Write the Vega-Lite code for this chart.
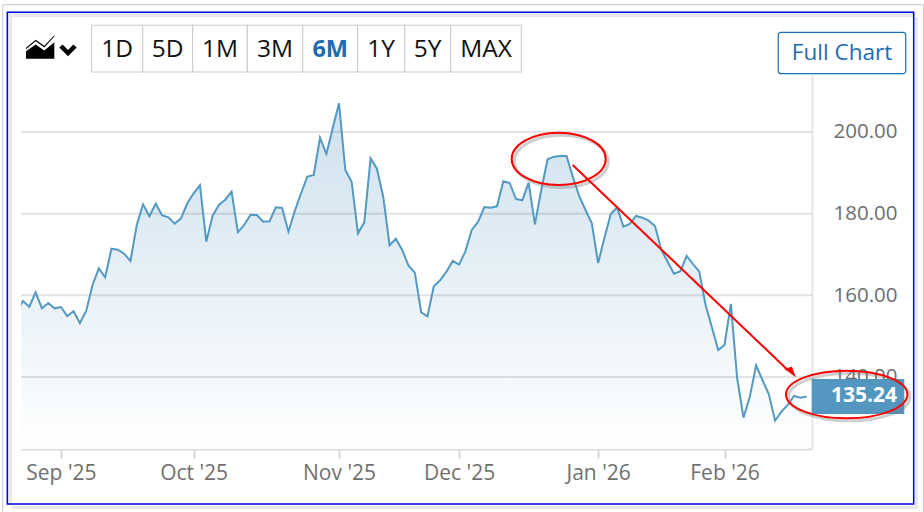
{
  "$schema": "https://vega.github.io/schema/vega-lite/v6.json",
  "description": "Six month share price chart, with the December high and the last price circled",
  "width": 791,
  "height": 374,
  "autosize": "none",
  "padding": {"left": 21, "top": 75, "right": 112, "bottom": 63},
  "background": "#ffffff",
  "config": {"view": {"stroke": null}, "font": "Open Sans"},
  "data": {"values": [{}]},
  "datasets": {
    "prices": [
      {"session":-1,"close":156.16},{"session":0,"close":158.61},{"session":1,"close":157.21},{"session":2,"close":160.74},{"session":3,"close":156.82},{"session":4,"close":158.12},{"session":5,"close":156.82},{"session":6,"close":157.14},{"session":7,"close":154.94},{"session":8,"close":156.09},
      {"session":9,"close":153.22},{"session":10,"close":156.16},{"session":11,"close":162.53},{"session":12,"close":166.62},{"session":13,"close":164.41},{"session":14,"close":171.42},{"session":15,"close":171.17},{"session":16,"close":170.19},{"session":17,"close":168.41},{"session":18,"close":177.22},
      {"session":19,"close":182.29},{"session":20,"close":179.35},{"session":21,"close":182.44},{"session":22,"close":179.6},{"session":23,"close":179.11},{"session":24,"close":177.54},{"session":25,"close":178.86},{"session":26,"close":182.54},{"session":27,"close":184.99},{"session":28,"close":186.95},
      {"session":29,"close":173.13},{"session":30,"close":179.5},{"session":31,"close":182.12},{"session":32,"close":183.42},{"session":33,"close":185.38},{"session":34,"close":175.43},{"session":35,"close":177.22},{"session":36,"close":179.75},{"session":37,"close":179.67},{"session":38,"close":178.03},
      {"session":39,"close":178.13},{"session":40,"close":181.56},{"session":41,"close":181.39},{"session":42,"close":175.58},{"session":43,"close":180.65},{"session":44,"close":184.99},{"session":45,"close":189.1},{"session":46,"close":189.47},{"session":47,"close":198.6},{"session":48,"close":194.61},
      {"session":49,"close":200.91},{"session":50,"close":207.03},{"session":51,"close":190.69},{"session":52,"close":187.83},{"session":53,"close":175.19},{"session":54,"close":177.88},{"session":55,"close":193.56},{"session":56,"close":191.01},{"session":57,"close":184.15},{"session":58,"close":172.25},
      {"session":59,"close":173.87},{"session":60,"close":171.1},{"session":61,"close":167.26},{"session":62,"close":165.54},{"session":63,"close":155.84},{"session":64,"close":154.86},{"session":65,"close":162.21},{"session":66,"close":163.68},{"session":67,"close":165.79},{"session":68,"close":168.41},
      {"session":69,"close":167.5},{"session":70,"close":170.78},{"session":71,"close":176},{"session":72,"close":177.96},{"session":73,"close":181.63},{"session":74,"close":181.46},{"session":75,"close":181.8},{"session":76,"close":187.93},{"session":77,"close":187.51},{"session":78,"close":183.59},
      {"session":79,"close":183.27},{"session":80,"close":187.58},{"session":81,"close":177.39},{"session":82,"close":185.8},{"session":83,"close":193.31},{"session":84,"close":193.95},{"session":85,"close":194.12},{"session":86,"close":194.12},{"session":87,"close":189.05},{"session":88,"close":184.33},
      {"session":89,"close":180.9},{"session":90,"close":177.64},{"session":91,"close":167.92},{"session":92,"close":174.11},{"session":93,"close":179.92},{"session":94,"close":181.51},{"session":95,"close":176.81},{"session":96,"close":177.47},{"session":97,"close":179.43},{"session":98,"close":179.01},
      {"session":99,"close":178.28},{"session":100,"close":176.98},{"session":101,"close":171.1},{"session":102,"close":168.24},{"session":103,"close":165.3},{"session":104,"close":165.88},{"session":105,"close":169.63},{"session":106,"close":167.67},{"session":107,"close":165.79},{"session":108,"close":157.63},
      {"session":109,"close":152.17},{"session":110,"close":146.61},{"session":111,"close":147.83},{"session":112,"close":157.87},{"session":113,"close":139.68},{"session":114,"close":130.03},{"session":115,"close":135.17},{"session":116,"close":142.86},{"session":117,"close":139.26},{"session":118,"close":135.83},
      {"session":119,"close":129.29},{"session":120,"close":131.5},{"session":121,"close":133.14},{"session":122,"close":135.34},{"session":123,"close":134.93},{"session":124,"close":135.24}
    ],
    "levels": [{"level":140},{"level":160},{"level":180},{"level":200}],
    "buttons": [
      {"label":"1D","from":10.87,"to":18.94,"mid":14.9},
      {"label":"5D","from":18.94,"to":26.85,"mid":22.9},
      {"label":"1M","from":26.85,"to":35.49,"mid":31.17},
      {"label":"3M","from":35.49,"to":44.26,"mid":39.87},
      {"label":"6M","from":44.26,"to":52.96,"mid":48.61},
      {"label":"1Y","from":52.96,"to":60.4,"mid":56.68},
      {"label":"5Y","from":60.4,"to":67.67,"mid":64.03},
      {"label":"MAX","from":67.67,"to":78.85,"mid":73.26}
    ],
    "shadows": [
      {"from":-2.37,"to":-1.74,"top":229.15,"bottom":108.65},
      {"from":-2.37,"to":140.9,"top":229.15,"bottom":228.17},
      {"from":141.06,"to":141.61,"top":228.17,"bottom":107.67},
      {"from":-1.74,"to":141.61,"top":108.45,"bottom":107.67}
    ]
  },
  "layer": [
    {
      "mark": {"type": "rect", "filled": false, "stroke": "#c8c8c8", "strokeWidth": 1},
      "encoding": {
        "x": {"datum": -3.21, "type": "quantitative", "title": null},
        "x2": {"datum": 142.48},
        "y": {"datum": 231.18, "type": "quantitative", "title": null},
        "y2": {"datum": 104.97}
      }
    },
    {
      "data": {"name": "shadows"},
      "mark": {"type": "rect", "fill": "#e9e9e9"},
      "encoding": {
        "x": {"field": "from", "type": "quantitative", "title": null},
        "x2": {"field": "to"},
        "y": {"field": "top", "type": "quantitative", "title": null},
        "y2": {"field": "bottom"}
      }
    },
    {
      "mark": {"type": "rect", "filled": false, "stroke": "#0000e6", "strokeWidth": 1.5},
      "encoding": {
        "x": {"datum": -2.48, "type": "quantitative", "title": null},
        "x2": {"datum": 140.93},
        "y": {"datum": 229.31, "type": "quantitative", "title": null},
        "y2": {"datum": 108.9}
      }
    },
    {
      "data": {"name": "prices"},
      "mark": {
        "type": "area",
        "clip": true,
        "opacity": 1,
        "fill": {
          "x1": 0, "y1": 0, "x2": 0, "y2": 1,
          "gradient": "linear",
          "stops": [
            {"offset": 0, "color": "#cee1ee"},
            {"offset": 1, "color": "#ffffff"}
          ]
        }
      },
      "encoding": {
        "x": {
          "field": "session",
          "type": "quantitative",
          "title": null,
          "scale": {"domain": [-0.316, 124.84], "nice": false, "zero": false},
          "axis": {
            "values": [6, 27, 50, 69, 91, 111],
            "labelExpr": "datum.value == 6 ? \"Sep '25\" : datum.value == 27 ? \"Oct '25\" : datum.value == 50 ? \"Nov '25\" : datum.value == 69 ? \"Dec '25\" : datum.value == 91 ? \"Jan '26\" : \"Feb '26\"",
            "grid": false,
            "domainColor": "#dcdcdc",
            "domainWidth": 2,
            "tickColor": "#d6d6d6",
            "tickWidth": 2,
            "tickSize": 9,
            "labelFontSize": 21,
            "labelColor": "#707070",
            "labelFont": "Open Sans",
            "labelPadding": 4,
            "labelFlush": false,
            "labelOverlap": false
          }
        },
        "y": {
          "field": "close",
          "type": "quantitative",
          "title": null,
          "scale": {"domain": [122.36, 213.96], "nice": false, "zero": false},
          "axis": {
            "orient": "right",
            "values": [140, 160, 180, 200],
            "format": ".2f",
            "grid": false,
            "ticks": false,
            "domainColor": "#e6e6e6",
            "domainWidth": 2,
            "labelFontSize": 20.5,
            "labelColor": "#6e6e6e",
            "labelFont": "Open Sans",
            "labelPadding": 21
          }
        },
        "y2": {"datum": 122.36}
      }
    },
    {
      "data": {"name": "levels"},
      "mark": {"type": "rule", "color": "#000000", "opacity": 0.11, "strokeWidth": 2},
      "encoding": {
        "y": {"field": "level", "type": "quantitative", "title": null}
      }
    },
    {
      "data": {"name": "prices"},
      "mark": {"type": "line", "clip": true, "color": "#5499c2", "strokeWidth": 2},
      "encoding": {
        "x": {"field": "session", "type": "quantitative", "title": null},
        "y": {"field": "close", "type": "quantitative", "title": null}
      }
    },
    {
      "mark": {"type": "rect", "fill": "#5397c0"},
      "encoding": {
        "x": {"datum": 124.79, "type": "quantitative", "title": null},
        "x2": {"datum": 139.45},
        "y": {"datum": 139.5, "type": "quantitative", "title": null},
        "y2": {"datum": 130.93}
      }
    },
    {
      "data": {"name": "prices"},
      "transform": [{"filter": "datum.session == 124"}],
      "mark": {"type": "text", "align": "right", "baseline": "middle", "color": "#ffffff", "font": "Open Sans", "fontWeight": "bold", "fontSize": 21},
      "encoding": {
        "x": {"datum": 138.3, "type": "quantitative", "title": null},
        "y": {"field": "close", "type": "quantitative", "title": null},
        "text": {"field": "close", "type": "quantitative", "format": ".2f"}
      }
    },
    {
      "data": {"name": "buttons"},
      "mark": {"type": "rect", "fill": "#ffffff", "stroke": "#cccccc", "strokeWidth": 1.1},
      "encoding": {
        "x": {"field": "from", "type": "quantitative", "title": null},
        "x2": {"field": "to"},
        "y": {"datum": 226.13, "type": "quantitative", "title": null},
        "y2": {"datum": 214.7}
      }
    },
    {
      "data": {"name": "buttons"},
      "transform": [{"filter": "datum.label != '6M'"}],
      "mark": {"type": "text", "baseline": "middle", "color": "#111111", "font": "Open Sans", "fontSize": 24.5},
      "encoding": {
        "x": {"field": "mid", "type": "quantitative", "title": null},
        "y": {"datum": 220.08, "type": "quantitative", "title": null},
        "text": {"field": "label"}
      }
    },
    {
      "data": {"name": "buttons"},
      "transform": [{"filter": "datum.label == '6M'"}],
      "mark": {"type": "text", "baseline": "middle", "color": "#1f6bb0", "font": "Open Sans", "fontWeight": "bold", "fontSize": 23.5},
      "encoding": {
        "x": {"field": "mid", "type": "quantitative", "title": null},
        "y": {"datum": 220.08, "type": "quantitative", "title": null},
        "text": {"field": "label"}
      }
    },
    {
      "mark": {"type": "rect", "fill": "#ffffff", "stroke": "#1f6fb5", "strokeWidth": 1.2, "cornerRadius": 3},
      "encoding": {
        "x": {"datum": 119.5, "type": "quantitative", "title": null},
        "x2": {"datum": 139.67},
        "y": {"datum": 224.42, "type": "quantitative", "title": null},
        "y2": {"datum": 214.28}
      }
    },
    {
      "mark": {"type": "text", "text": "Full Chart", "baseline": "middle", "color": "#1f6bb0", "font": "Open Sans", "fontSize": 22.5},
      "encoding": {
        "x": {"datum": 129.59, "type": "quantitative", "title": null},
        "y": {"datum": 219.47, "type": "quantitative", "title": null}
      }
    },
    {
      "mark": {
        "type": "point",
        "shape": "M-1,0.816L-1,0.287L-0.333,-0.172L0.264,0.241L0.954,-0.333L0.954,0.816ZM-1,0.057L-0.333,-0.494L0.264,-0.08L0.954,-0.816L0.954,-0.72L0.264,0.03L-0.333,-0.39L-1,0.15Z",
        "size": 841,
        "filled": true,
        "fill": "#000000",
        "opacity": 1,
        "strokeWidth": 0
      },
      "encoding": {
        "x": {"datum": 2.77, "type": "quantitative", "title": null},
        "y": {"datum": 220.82, "type": "quantitative", "title": null}
      }
    },
    {
      "mark": {
        "type": "point",
        "shape": "M-1,-0.35L-0.62,-0.7L0,-0.05L0.62,-0.7L1,-0.35L0,0.67Z",
        "size": 303,
        "filled": true,
        "fill": "#000000",
        "opacity": 1,
        "strokeWidth": 0
      },
      "encoding": {
        "x": {"datum": 7.12, "type": "quantitative", "title": null},
        "y": {"datum": 219.96, "type": "quantitative", "title": null}
      }
    },
    {
      "mark": {"type": "point", "shape": "M-1,0A1,0.557,0,1,1,1,0A1,0.557,0,1,1,-1,0Z", "size": 8836, "filled": false, "stroke": "#777777", "strokeWidth": 3, "opacity": 0.35, "xOffset": 2.5, "yOffset": 2.5},
      "encoding": {
        "x": {"datum": 84.76, "type": "quantitative", "title": null},
        "y": {"datum": 193.41, "type": "quantitative", "title": null}
      }
    },
    {
      "mark": {"type": "point", "shape": "M-1,0A1,0.392,0,1,1,1,0A1,0.392,0,1,1,-1,0Z", "size": 14738, "filled": false, "stroke": "#777777", "strokeWidth": 3, "opacity": 0.35, "xOffset": 2.5, "yOffset": 2.5},
      "encoding": {
        "x": {"datum": 130.33, "type": "quantitative", "title": null},
        "y": {"datum": 135.71, "type": "quantitative", "title": null}
      }
    },
    {
      "mark": {"type": "point", "shape": "M-1,0A1,0.557,0,1,1,1,0A1,0.557,0,1,1,-1,0Z", "size": 8836, "filled": false, "stroke": "#ff0000", "strokeWidth": 2, "opacity": 1},
      "encoding": {
        "x": {"datum": 84.76, "type": "quantitative", "title": null},
        "y": {"datum": 193.41, "type": "quantitative", "title": null}
      }
    },
    {
      "mark": {"type": "point", "shape": "M-1,0A1,0.392,0,1,1,1,0A1,0.392,0,1,1,-1,0Z", "size": 14738, "filled": false, "stroke": "#ff0000", "strokeWidth": 2, "opacity": 1},
      "encoding": {
        "x": {"datum": 130.33, "type": "quantitative", "title": null},
        "y": {"datum": 135.71, "type": "quantitative", "title": null}
      }
    },
    {
      "mark": {"type": "rule", "color": "#ff0000", "strokeWidth": 2},
      "encoding": {
        "x": {"datum": 86.98, "type": "quantitative", "title": null},
        "x2": {"datum": 121},
        "y": {"datum": 191.92, "type": "quantitative", "title": null},
        "y2": {"datum": 141.71}
      }
    },
    {
      "mark": {"type": "point", "shape": "M0.83,0.75L-0.83,-0.48L0.28,-0.75Z", "size": 196, "filled": true, "fill": "#ff0000", "opacity": 1, "strokeWidth": 0},
      "encoding": {
        "x": {"datum": 121.36, "type": "quantitative", "title": null},
        "y": {"datum": 141.22, "type": "quantitative", "title": null}
      }
    }
  ]
}
